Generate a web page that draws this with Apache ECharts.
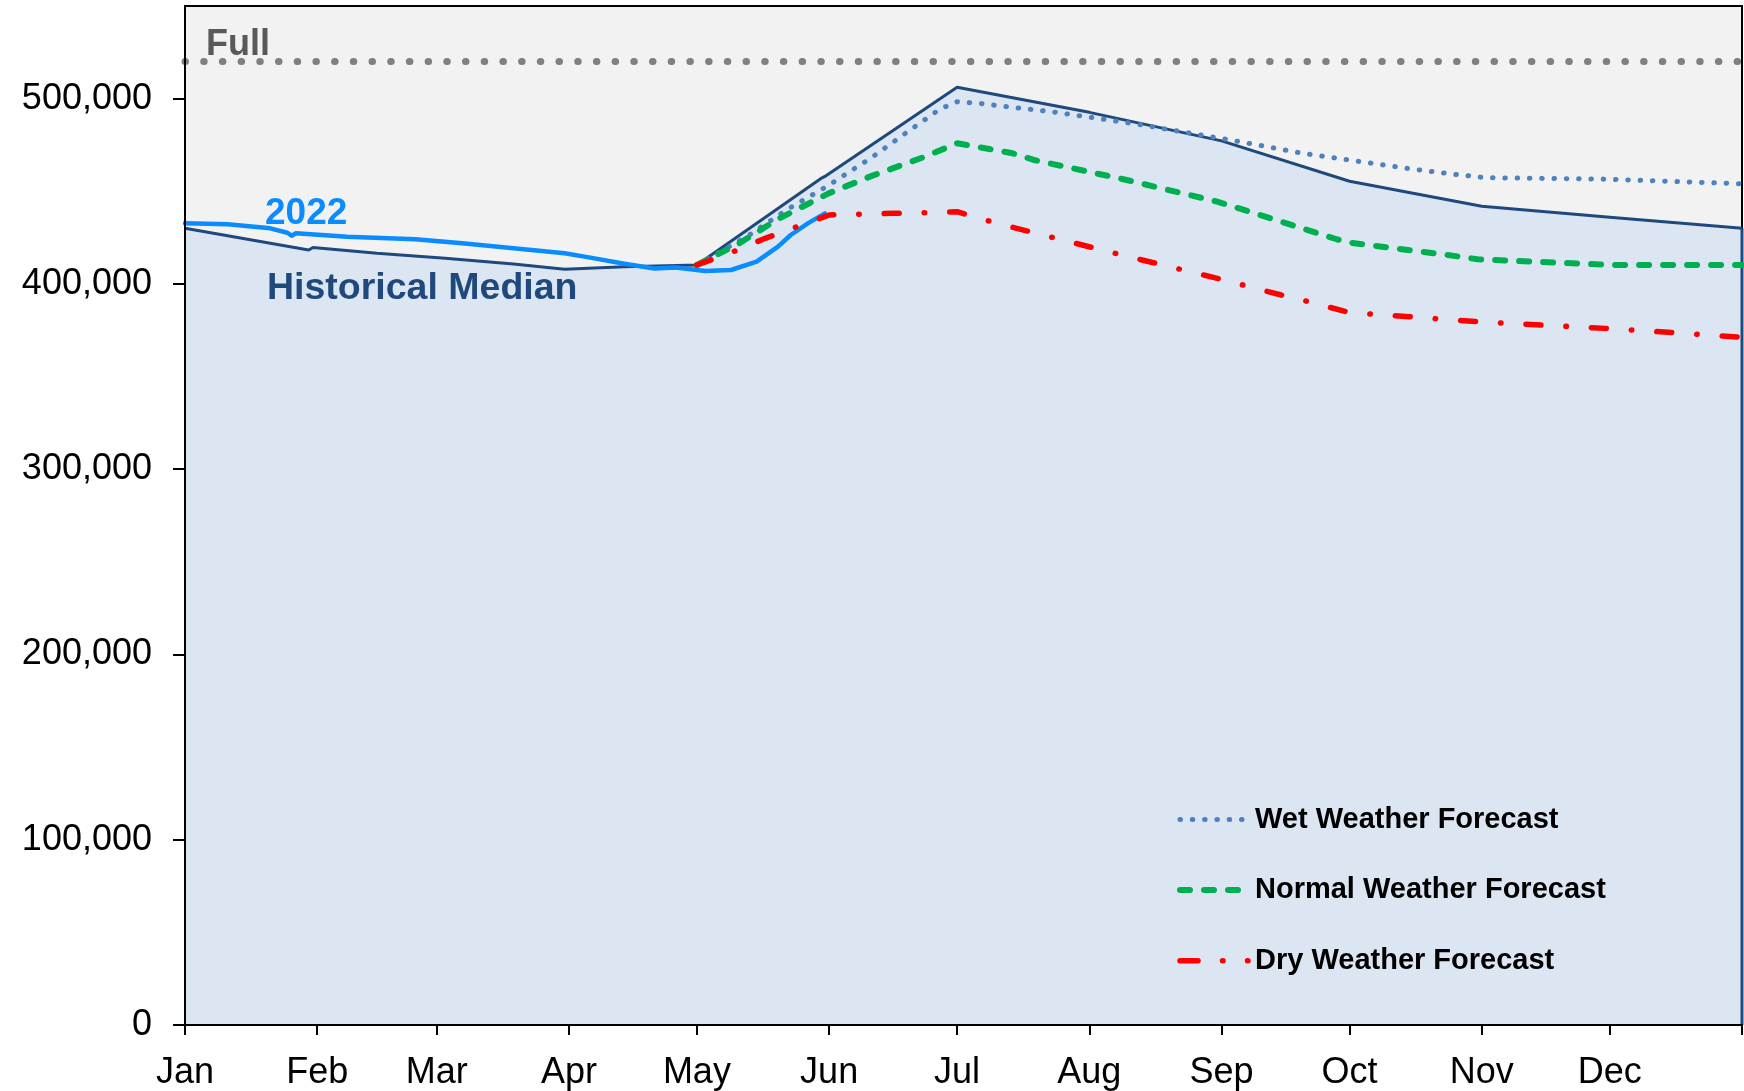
<!DOCTYPE html>
<html>
<head>
<meta charset="utf-8">
<script src="https://cdn.jsdelivr.net/npm/echarts@6/dist/echarts.min.js"></script>
<style>
html,body{margin:0;padding:0;background:#fff;}
#chart{width:1744px;height:1091px;}
</style>
</head>
<body>
<div id="chart"></div>
<script>
// ---- data ----
const monthLabels = ['Jan','Feb','Mar','Apr','May','Jun','Jul','Aug','Sep','Oct','Nov','Dec'];
const yTicks = [0, 100000, 200000, 300000, 400000, 500000];
const fullLevel = [['2022-01-01', 520000], ['2023-01-01', 520000]];
const medianPts = [
  ['2022-01-01',430000],['2022-01-30',418300],['2022-01-31',419700],['2022-02-15',416600],
  ['2022-03-03',413800],['2022-03-19',410700],['2022-03-31',407900],['2022-04-14',409300],
  ['2022-05-01',410200],['2022-05-30',456800],['2022-05-31',458000],['2022-07-01',506100],
  ['2022-08-01',492600],['2022-09-01',477200],['2022-10-01',455400],['2022-11-01',441900],
  ['2022-12-01',436000],['2023-01-01',430000]
];
const y2022Pts = [
  ['2022-01-01',432700],['2022-01-11',432200],['2022-01-21',430000],['2022-01-25',427600],
  ['2022-01-26',426000],['2022-01-27',427300],['2022-02-08',425500],['2022-02-24',424100],
  ['2022-03-07',421900],['2022-03-19',419200],['2022-03-31',416500],['2022-04-06',414200],
  ['2022-04-14',410900],['2022-04-21',408300],['2022-04-26',408900],['2022-05-03',407000],
  ['2022-05-09',407500],['2022-05-15',412000],['2022-05-20',420100],['2022-05-23',426400],
  ['2022-05-27',432700],['2022-05-31',438100]
];
const wetPts = [
  ['2022-05-01',410200],['2022-05-13',426000],['2022-05-22',439900],['2022-06-01',453400],
  ['2022-06-11',468300],['2022-06-20',483100],['2022-06-27',494400],['2022-07-01',498300],
  ['2022-07-06',497500],['2022-07-14',495300],['2022-07-23',493000],['2022-08-12',486300],
  ['2022-09-04',477300],['2022-09-20',470500],['2022-10-16',461900],['2022-10-25',459300],
  ['2022-11-02',457300],['2022-11-29',456600],['2022-12-29',454300],['2023-01-01',454000]
];
const normalPts = [
  ['2022-05-01',410200],['2022-05-11',422000],['2022-05-20',435000],['2022-06-01',449000],
  ['2022-06-11',458300],['2022-06-23',468300],['2022-07-01',475900],['2022-07-14',470500],
  ['2022-07-19',466900],['2022-08-09',456500],['2022-08-31',444400],['2022-09-15',433600],
  ['2022-09-28',424100],['2022-10-01',422300],['2022-10-24',415600],['2022-10-31',413300],
  ['2022-12-02',410200],['2023-01-01',410200]
];
const dryPts = [
  ['2022-05-01',410200],['2022-05-09',416900],['2022-05-17',424600],['2022-05-24',430500],
  ['2022-06-01',437200],['2022-06-08',437600],['2022-06-16',438100],['2022-06-24',438400],
  ['2022-07-01',439000],['2022-07-04',436800],['2022-07-09',433600],['2022-07-15',430000],
  ['2022-08-07',416500],['2022-08-31',403000],['2022-09-15',394000],['2022-09-22',390100],
  ['2022-10-01',384500],['2022-10-15',382300],['2022-10-31',379600],['2022-11-15',377800],
  ['2022-11-30',376000],['2022-12-16',373700],['2023-01-01',371200]
];

// daily category axis
function pad(n){ return n < 10 ? '0' + n : '' + n; }
const days = [];
for (let t = Date.UTC(2022,0,1); t <= Date.UTC(2023,0,1); t += 86400000) {
  const d = new Date(t);
  days.push(d.getUTCFullYear() + '-' + pad(d.getUTCMonth()+1) + '-' + pad(d.getUTCDate()));
}
const lastMedian = medianPts[medianPts.length - 1];
const rightEdge = [[lastMedian[0], 0], [lastMedian[0], lastMedian[1]]];

const FONT = '"Liberation Sans", Arial, sans-serif';
const wetStyle = {color:'#4f81bd', width:5, type:[0.5, 11.8], cap:'round'};
const normalStyle = {color:'#00b050', width:6, type:[10, 14], cap:'round'};
const dryStyle = {color:'#ff0000', width:5.5, type:[15, 25, 0.5, 25], cap:'round'};

const chart = echarts.init(document.getElementById('chart'), null, {renderer:'canvas'});
chart.setOption({
  animation: false,
  backgroundColor: '#ffffff',
  grid: {left:185, top:6, right:2, bottom:66, show:true, backgroundColor:'#f2f2f2', borderColor:'#000', borderWidth:2, containLabel:false},
  xAxis: {
    type:'category', data: days, boundaryGap:false, z:5,
    axisLine:{lineStyle:{color:'#000', width:2}},
    axisTick:{show:true, length:10, lineStyle:{color:'#000', width:2},
      interval:function(i, v){ return v.slice(8) === '01'; }},
    axisLabel:{color:'#000', fontSize:36, fontFamily:FONT, margin:30,
      interval:function(i, v){ return v.slice(8) === '01' && v.slice(0,4) === '2022'; },
      formatter:function(v){ return monthLabels[parseInt(v.slice(5,7),10)-1]; }},
    splitLine:{show:false}
  },
  yAxis: {
    type:'value', min:0, max:550000, z:5,
    axisLine:{show:true, lineStyle:{color:'#000', width:2}},
    axisTick:{show:true, length:12, lineStyle:{color:'#000', width:2}, customValues:yTicks},
    axisLabel:{color:'#000', fontSize:36, fontFamily:FONT, margin:33, customValues:yTicks,
      formatter:function(v){ return String(v).replace(/\B(?=(\d{3})+(?!\d))/g, ','); }},
    splitLine:{show:false}
  },
  legend: {
    orient:'vertical', left:1177, top:804.5, padding:0,
    itemWidth:70, itemHeight:14, itemGap:40.6,
    itemStyle:{opacity:0},
    textStyle:{fontSize:29, fontWeight:'bold', fontFamily:FONT, color:'#000', lineHeight:30},
    data:[
      {name:'Wet Weather Forecast', lineStyle:wetStyle, itemStyle:{opacity:0}},
      {name:'Normal Weather Forecast', lineStyle:normalStyle, itemStyle:{opacity:0}},
      {name:'Dry Weather Forecast', lineStyle:{color:'#ff0000', width:5.5, type:[18, 24.5, 0.5, 24.5, 0.5, 24.5], cap:'round'}, itemStyle:{opacity:0}}
    ]
  },
  graphic: [
    {type:'text', x:206, y:45.5, z:100, style:{text:'Full', font:'bold 36px ' + FONT, fill:'#595959', align:'left', verticalAlign:'middle'}},
    {type:'text', x:265, y:213.5, z:100, style:{text:'2022', font:'bold 37px ' + FONT, fill:'#0a8cff', align:'left', verticalAlign:'middle'}},
    {type:'text', x:267, y:289, z:100, style:{text:'Historical Median', font:'bold 37.5px ' + FONT, fill:'#1f497d', align:'left', verticalAlign:'middle'}}
  ],
  series: [
    {name:'Historical Median', type:'line', data:medianPts, showSymbol:false, symbol:'none', z:2,
      lineStyle:{color:'#1f497d', width:3}, areaStyle:{color:'#dce6f2', opacity:1}},
    {name:'edge', type:'line', data:rightEdge, symbol:'none', z:2,
      lineStyle:{color:'#1f497d', width:3}},
    {name:'Full', type:'line', data:fullLevel, symbol:'none', z:3,
      lineStyle:{color:'#808080', width:7, type:[0.5, 18.2], cap:'round'}},
    {name:'2022', type:'line', data:y2022Pts, symbol:'none', z:4,
      lineStyle:{color:'#0a8cff', width:4.5, join:'round', cap:'round'}},
    {name:'Wet Weather Forecast', type:'line', data:wetPts, symbol:'none', z:5, lineStyle:wetStyle},
    {name:'Normal Weather Forecast', type:'line', data:normalPts, symbol:'none', z:6, lineStyle:normalStyle},
    {name:'Dry Weather Forecast', type:'line', data:dryPts, symbol:'none', z:7, lineStyle:dryStyle}
  ]
});
</script>
</body>
</html>
